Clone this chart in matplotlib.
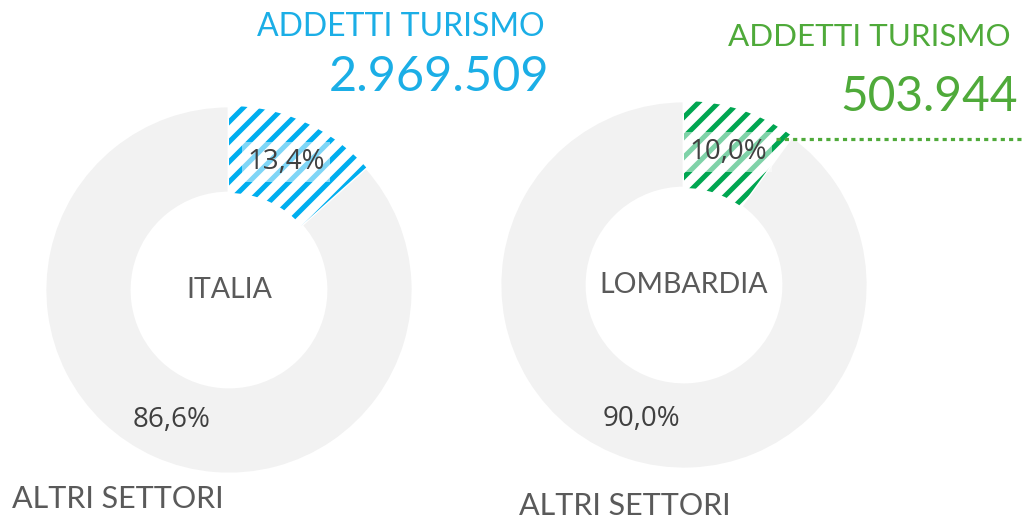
import numpy as np
import matplotlib
matplotlib.use("Agg")
import matplotlib.pyplot as plt

regions = ["ITALIA", "LOMBARDIA"]
turismo_pct = [13.4, 10.0]
altri_pct = [86.6, 90.0]
addetti_turismo = ["2.969.509", "503.944"]

W, H = 1023, 519
dark = ["#00AEEF", "#00A651"]
title_col = ["#1BAEE6", "#4FAA3A"]
ring_col = "#F2F2F2"

# layout in pixel units (y measured from the bottom)
centers = [(229, H - 290), (684, H - 285)]
R, ring_w = 184, 87

fig = plt.figure(figsize=(W / 100, H / 100), dpi=100)
ax = fig.add_axes([0, 0, 1, 1])


def stripes(ax, wedge, color, period=20, lw=3.6):
    # diagonal "/" stripes clipped to the wedge
    x0, y0 = wedge.center
    for c in np.arange(-2 * R, 2 * R, period):
        xs = np.array([x0 - R, x0 + R])
        ys = xs - x0 + y0 - c
        ln, = ax.plot(xs, ys, color=color, lw=lw, solid_capstyle="butt", zorder=3)
        ln.set_clip_path(wedge)


for i, reg in enumerate(regions):
    cx, cy = centers[i]
    wedges, _ = ax.pie([turismo_pct[i], altri_pct[i]], center=(cx, cy), radius=R,
                       startangle=90, counterclock=False,
                       colors=["white", ring_col],
                       wedgeprops=dict(width=ring_w, edgecolor="white", linewidth=2))
    stripes(ax, wedges[0], dark[i])

    ax.text(cx, cy, reg, ha="center", va="center", fontsize=20.5,
            family="Lato", color="#5A5A5A", zorder=5)

# percentage labels
lab_kw = dict(ha="center", va="center", fontsize=20, family="Open Sans", color="#404040", zorder=6)
box = dict(boxstyle="square,pad=0.2", facecolor="white", edgecolor="none", alpha=0.5)
ax.text(286, H - 162, f"{turismo_pct[0]:.1f}".replace(".", ",") + "%", bbox=box, **lab_kw)
ax.text(728, H - 152, f"{turismo_pct[1]:.1f}".replace(".", ",") + "%", bbox=box, **lab_kw)
ax.text(172, H - 420, f"{altri_pct[0]:.1f}".replace(".", ",") + "%", **lab_kw)
ax.text(641, H - 419, f"{altri_pct[1]:.1f}".replace(".", ",") + "%", **lab_kw)

# headings
hd = dict(family="Lato")
ax.text(545, H - 27, "ADDETTI TURISMO", ha="right", va="center", fontsize=23, color=title_col[0], **hd)
ax.text(549, H - 77, addetti_turismo[0], ha="right", va="center", fontsize=35, color=title_col[0], **hd)
ax.text(1011, H - 37, "ADDETTI TURISMO", ha="right", va="center", fontsize=22.6, color=title_col[1], **hd)
ax.text(1018, H - 97, addetti_turismo[1], ha="right", va="center", fontsize=34.5, color=title_col[1], **hd)

ax.text(12, H - 499, "ALTRI SETTORI", ha="left", va="center", fontsize=22, color="#5A5A5A", **hd)
ax.text(519, H - 506, "ALTRI SETTORI", ha="left", va="center", fontsize=22, color="#5A5A5A", **hd)

# dotted leader line from the Lombardia tourism slice
cx, cy = centers[1]
ang = np.deg2rad(90 - turismo_pct[1] * 3.6)
ex, ey = cx + R * np.cos(ang), cy + R * np.sin(ang)
ax.plot([ex - 16, W], [ey - 3, ey - 3], color="#4FAA3A", lw=2.3,
        dashes=(1.3, 1.3), solid_capstyle="butt", zorder=4)

ax.set_xlim(0, W)
ax.set_ylim(0, H)
ax.set_aspect("equal")
ax.axis("off")

fig.savefig("out.png", dpi=100)
